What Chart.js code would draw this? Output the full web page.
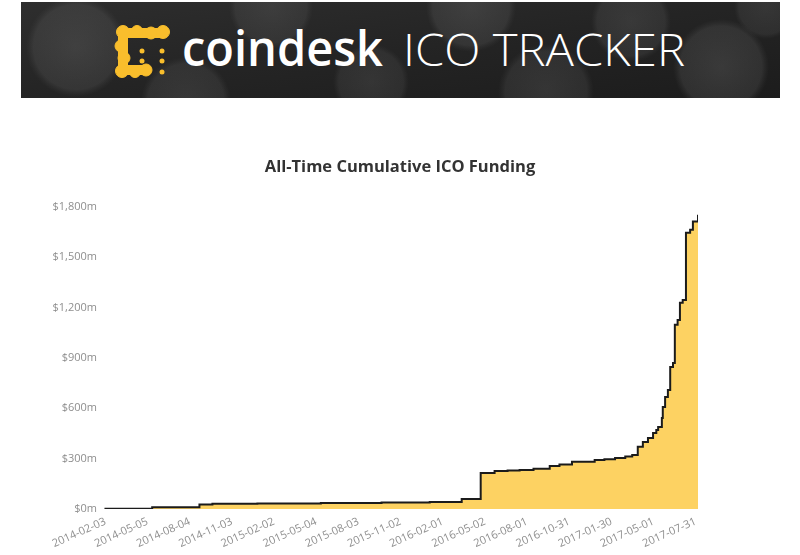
<!DOCTYPE html>
<html>
<head>
<meta charset="utf-8">
<script src="https://cdn.jsdelivr.net/npm/chart.js@4.4.1/dist/chart.umd.min.js"></script>
<style>
  html, body { margin: 0; padding: 0; background: #fff; width: 800px; height: 555px; overflow: hidden; }
  #banner { position: absolute; left: 21px; top: 2px; width: 759px; height: 96px; }
  #wrap { position: absolute; left: 0; top: 0; width: 800px; height: 555px; }
</style>
</head>
<body>
<svg id="banner" width="759" height="96" viewBox="0 0 759 96" xmlns="http://www.w3.org/2000/svg">
  <defs>
    <linearGradient id="bg" x1="0" y1="0" x2="1" y2="1">
      <stop offset="0" stop-color="#2e2e2e"/>
      <stop offset="0.5" stop-color="#242424"/>
      <stop offset="1" stop-color="#1c1c1c"/>
    </linearGradient>
    <radialGradient id="bk" cx="0.5" cy="0.5" r="0.5">
      <stop offset="0" stop-color="#777" stop-opacity="0.5"/>
      <stop offset="0.85" stop-color="#6a6a6a" stop-opacity="0.4"/>
      <stop offset="1" stop-color="#555" stop-opacity="0"/>
    </radialGradient>
  </defs>
  <rect x="0" y="0" width="759" height="96" fill="url(#bg)"/>
  <circle cx="55" cy="45" r="50" fill="url(#bk)" opacity="0.6"/>
  <circle cx="165" cy="100" r="45" fill="url(#bk)" opacity="0.5"/>
  <circle cx="250" cy="5" r="42" fill="url(#bk)" opacity="0.5"/>
  <circle cx="350" cy="80" r="38" fill="url(#bk)" opacity="0.45"/>
  <circle cx="450" cy="5" r="45" fill="url(#bk)" opacity="0.6"/>
  <circle cx="525" cy="90" r="48" fill="url(#bk)" opacity="0.5"/>
  <circle cx="610" cy="20" r="40" fill="url(#bk)" opacity="0.5"/>
  <circle cx="700" cy="65" r="48" fill="url(#bk)" opacity="0.6"/>
  <circle cx="745" cy="5" r="32" fill="url(#bk)" opacity="0.45"/>
  <g fill="#F9BE2C" stroke="#F9BE2C">
    <path d="M102 31 L142 31 M102 31 L102 68 M102 68 L124 68" stroke-width="10" stroke-linecap="round" fill="none"/>
    <circle cx="102" cy="30" r="6.5"/>
    <circle cx="116" cy="29" r="5.5"/>
    <circle cx="130" cy="31" r="6"/>
    <circle cx="142" cy="30" r="6.5"/>
    <circle cx="100" cy="44" r="6"/>
    <circle cx="103" cy="56" r="6"/>
    <circle cx="101" cy="69" r="6.5"/>
    <circle cx="114" cy="70" r="5.5"/>
    <circle cx="125" cy="68" r="6"/>
    <circle cx="121" cy="49" r="2.5" stroke="none"/>
    <circle cx="141" cy="49" r="2.5" stroke="none"/>
    <circle cx="121" cy="59" r="2.5" stroke="none"/>
    <circle cx="141" cy="59" r="2.5" stroke="none"/>
    <circle cx="141" cy="70" r="2.5" stroke="none"/>
  </g>
  <text x="161" y="64" fill="#fff" font-family="'Open Sans', Lato, sans-serif" font-weight="600" font-size="48" textLength="201" lengthAdjust="spacingAndGlyphs">coindesk</text>
  <text x="382" y="64" fill="#fff" font-family="'Open Sans', Lato, sans-serif" font-weight="300" font-size="44" textLength="282" lengthAdjust="spacingAndGlyphs">ICO TRACKER</text>
</svg>
<div id="wrap"><canvas id="c" width="800" height="555"></canvas></div>
<script>
// ---- data ----
const dates = ['2014-02-01','2014-05-15','2014-08-25','2014-09-22','2014-12-28','2015-05-14','2015-09-22','2016-01-04',
  '2016-03-13','2016-04-23','2016-05-23','2016-06-20','2016-07-16','2016-08-15','2016-09-19','2016-10-10','2016-11-06',
  '2016-12-25','2017-01-15','2017-02-07','2017-03-01','2017-03-16','2017-03-28','2017-04-08','2017-04-19','2017-04-30',
  '2017-05-07','2017-05-11','2017-05-19','2017-05-21','2017-05-26','2017-06-01','2017-06-06','2017-06-12','2017-06-16',
  '2017-06-22','2017-06-27','2017-07-03','2017-07-10','2017-07-19','2017-07-25','2017-08-05'];
const funding = [2,10,27,31,33,35,38,41,
  60,215,226,229,232,240,256,265,282,
  292,296,304,312,322,371,399,423,453,
  471,489,542,608,667,709,846,870,1097,
  1126,1228,1245,1645,1663,1712,1752];
const tickLabels = ['2014-02-03','2014-05-05','2014-08-04','2014-11-03','2015-02-02','2015-05-04','2015-08-03',
  '2015-11-02','2016-02-01','2016-05-02','2016-08-01','2016-10-31','2017-01-30','2017-05-01','2017-07-31'];
const yTicks = [0,300,600,900,1200,1500,1800];

const BASE = Date.UTC(2014,1,3);
function dayNum(s){ const p = s.split('-').map(Number); return (Date.UTC(p[0],p[1]-1,p[2]) - BASE)/86400000; }
const points = dates.map((d,i)=>({x: dayNum(d), y: funding[i]}));
const tickDays = tickLabels.map(dayNum);
const labelByDay = {}; tickLabels.forEach((l,i)=>{ labelByDay[tickDays[i]] = l; });

const FONT = "'Open Sans', 'Segoe UI', sans-serif";
new Chart(document.getElementById('c'), {
  type: 'line',
  data: { datasets: [{
    data: points,
    stepped: true,
    borderColor: '#1b1b1b',
    borderWidth: 2,
    backgroundColor: '#FDD262',
    fill: 'origin',
    pointRadius: 0,
    tension: 0
  }]},
  options: {
    responsive: false,
    animation: false,
    layout: { padding: 0 },
    plugins: {
      legend: { display: false },
      tooltip: { enabled: false },
      title: {
        display: true,
        text: 'All-Time Cumulative ICO Funding',
        color: '#333',
        font: { family: FONT, size: 16.5, weight: 'bold' },
        padding: { top: 157, bottom: 30 }
      }
    },
    scales: {
      x: {
        type: 'linear',
        min: dayNum(dates[0]) - 1,
        max: dayNum(dates[dates.length-1]),
        grid: { display: false, drawTicks: false },
        border: { display: false },
        afterBuildTicks: (s) => { s.ticks = tickDays.map(v=>({value:v})); },
        afterFit: (s) => { s.height = 46; },
        ticks: {
          autoSkip: false,
          minRotation: 24, maxRotation: 24,
          padding: 6,
          color: '#8e8e8e',
          font: { family: FONT, size: 11 },
          callback: (v) => labelByDay[v] || ''
        }
      },
      y: {
        min: 0, max: 1800,
        grid: { display: false, drawTicks: false },
        border: { display: false },
        afterBuildTicks: (s) => { s.ticks = yTicks.map(v=>({value:v})); },
        afterFit: (s) => { s.width = 104; },
        ticks: {
          padding: 7,
          color: '#8e8e8e',
          font: { family: FONT, size: 11 },
          callback: (v) => '$' + v.toLocaleString('en-US') + 'm'
        }
      },
      yRight: {
        position: 'right',
        min: 0, max: 1800,
        grid: { display: false, drawTicks: false },
        border: { display: false },
        ticks: { display: false },
        afterFit: (s) => { s.width = 102; }
      }
    }
  }
});
</script>
</body>
</html>
